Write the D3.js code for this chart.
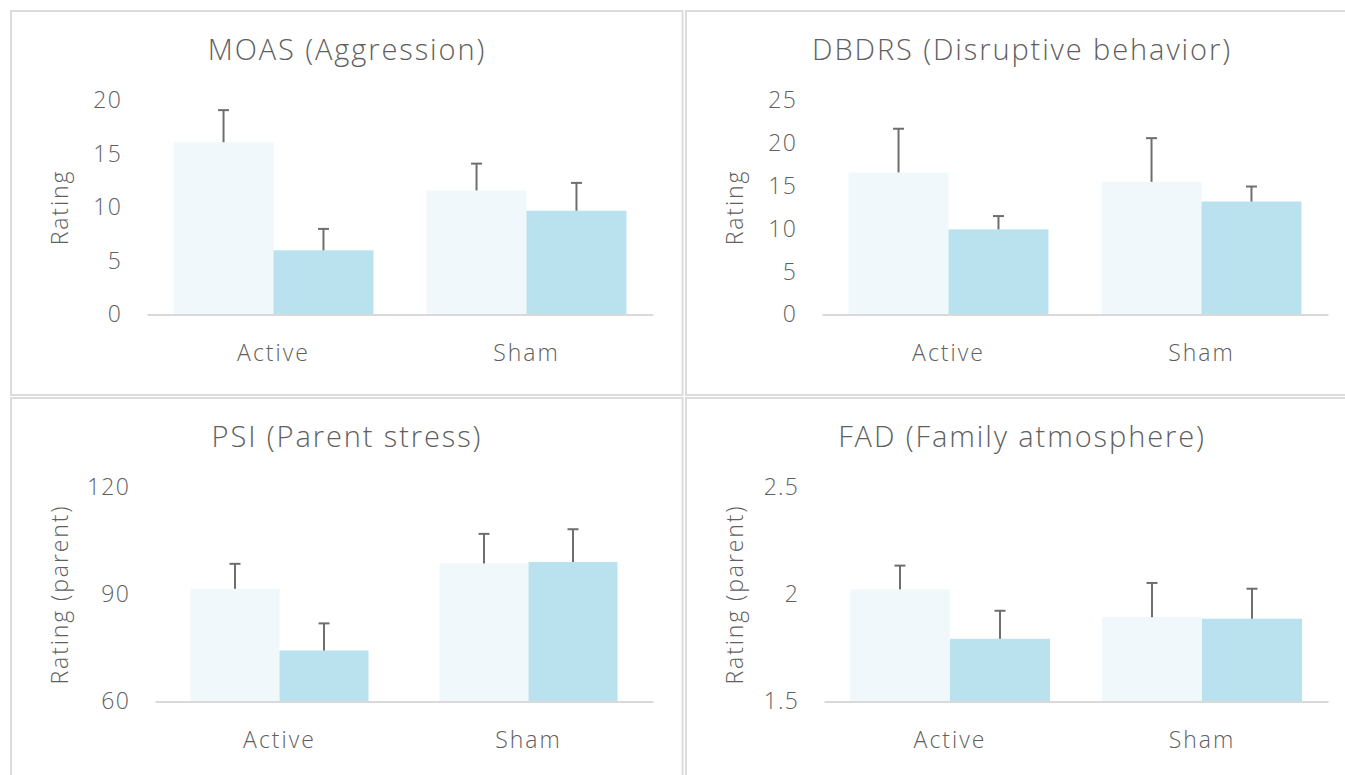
<!DOCTYPE html>
<html>
<head>
<meta charset="utf-8">
<script src="https://cdn.jsdelivr.net/npm/d3@7"></script>
<style>
  body { margin: 0; background: #fff; }
  text { font-family: "Open Sans", sans-serif; font-weight: 300; fill: #5f5f5f; }
</style>
</head>
<body>
<div id="chart"></div>
<script>
var groups = ["Active", "Sham"];
var series = ["baseline", "post"];

// MOAS (Aggression)
var moasBaseline = [16.1, 11.6];
var moasPost = [6.0, 9.7];
var moasBaselineErr = [3.0, 2.5];
var moasPostErr = [2.0, 2.6];
var moasTicks = [0, 5, 10, 15, 20];

// DBDRS (Disruptive behavior)
var dbdrsBaseline = [16.6, 15.5];
var dbdrsPost = [9.95, 13.2];
var dbdrsBaselineErr = [5.1, 5.1];
var dbdrsPostErr = [1.55, 1.75];
var dbdrsTicks = [0, 5, 10, 15, 20, 25];

// PSI (Parent stress)
var psiBaseline = [91.6, 98.7];
var psiPost = [74.3, 99.1];
var psiBaselineErr = [7.0, 8.3];
var psiPostErr = [7.6, 9.2];
var psiTicks = [60, 90, 120];

// FAD (Family atmosphere)
var fadBaseline = [2.024, 1.894];
var fadPost = [1.793, 1.887];
var fadBaselineErr = [0.111, 0.16];
var fadPostErr = [0.131, 0.14];
var fadTicks = [1.5, 2, 2.5];

var panels = [
  {title: "MOAS (Aggression)", yLabel: "Rating", means: [moasBaseline, moasPost],
   errs: [moasBaselineErr, moasPostErr], ticks: moasTicks, col: 0, row: 0, left: 136, pad: 0.21},
  {title: "DBDRS (Disruptive behavior)", yLabel: "Rating", means: [dbdrsBaseline, dbdrsPost],
   errs: [dbdrsBaselineErr, dbdrsPostErr], ticks: dbdrsTicks, col: 1, row: 0, left: 136, pad: 0.21},
  {title: "PSI (Parent stress)", yLabel: "Rating (parent)", means: [psiBaseline, psiPost],
   errs: [psiBaselineErr, psiPostErr], ticks: psiTicks, col: 0, row: 1, left: 144, pad: 0.285},
  {title: "FAD (Family atmosphere)", yLabel: "Rating (parent)", means: [fadBaseline, fadPost],
   errs: [fadBaselineErr, fadPostErr], ticks: fadTicks, col: 1, row: 1, left: 138, pad: 0.206}
];

var colors = {baseline: "#f0f8fb", post: "#b9e2ee"};

var svg = d3.select("#chart")
   .append("svg")
   .attr("width", 1345)
   .attr("height", 775);

panels.forEach(drawPanel);

function drawPanel(p) {
   var g = svg.append("g")
      .attr("transform", "translate(" + (11 + p.col * 675) + "," + (11 + p.row * 387) + ")");

   g.append("rect")
      .attr("width", 671.5)
      .attr("height", 384)
      .attr("fill", "none")
      .attr("stroke", "#dcdcdc")
      .attr("stroke-width", 2);

   var x0 = d3.scaleBand().domain(groups).range([p.left, 642])
      .paddingInner(p.pad).paddingOuter(p.pad / 2);
   var x1 = d3.scaleBand().domain(series).range([0, x0.bandwidth()]);
   var y = d3.scaleLinear()
      .domain([p.ticks[0], p.ticks[p.ticks.length - 1]])
      .range([303.5, 89.5]);

   var rows = [];
   groups.forEach(function(grp, i) {
      series.forEach(function(s, j) {
         rows.push({group: grp, series: s, mean: p.means[j][i], err: p.errs[j][i]});
      });
   });

   g.append("text")
      .attr("x", 336)
      .attr("y", 49)
      .attr("text-anchor", "middle")
      .style("font-size", "29px")
      .style("letter-spacing", "1.9px")
      .text(p.title);

   g.append("text")
      .attr("transform", "translate(49," + ((y.range()[0] + y.range()[1]) / 2) + ") rotate(-90)")
      .attr("text-anchor", "middle")
      .attr("dy", "0.35em")
      .style("font-size", "23px")
      .style("letter-spacing", "1.9px")
      .text(p.yLabel);

   g.selectAll(".bar")
      .data(rows)
      .enter().append("rect")
      .attr("class", "bar")
      .attr("x", function(d) {return x0(d.group) + x1(d.series)})
      .attr("width", x1.bandwidth())
      .attr("y", function(d) {return y(d.mean)})
      .attr("height", function(d) {return y.range()[0] - y(d.mean)})
      .attr("fill", function(d) {return colors[d.series]});

   var err = g.selectAll(".err")
      .data(rows)
      .enter().append("g")
      .attr("class", "err")
      .attr("transform", function(d) {return "translate(" + (x0(d.group) + x1(d.series) + x1.bandwidth() / 2) + ",0)"});

   err.append("line")
      .attr("y1", function(d) {return y(d.mean)})
      .attr("y2", function(d) {return y(d.mean + d.err)})
      .attr("stroke", "#6e6e6e")
      .attr("stroke-width", 2);

   err.append("line")
      .attr("x1", -5.5)
      .attr("x2", 5.5)
      .attr("y1", function(d) {return y(d.mean + d.err)})
      .attr("y2", function(d) {return y(d.mean + d.err)})
      .attr("stroke", "#6e6e6e")
      .attr("stroke-width", 2);

   var yAxis = g.append("g")
      .attr("transform", "translate(" + p.left + ",0)")
      .call(d3.axisLeft(y).tickValues(p.ticks).tickSize(0).tickPadding(25).tickFormat(function(d) {return String(d)}));
   yAxis.select(".domain").remove();
   yAxis.selectAll("text")
      .style("font-size", "23px")
      .style("letter-spacing", "1.2px")
      .attr("fill", null);

   var xAxis = g.append("g")
      .attr("transform", "translate(0," + y.range()[0] + ")")
      .call(d3.axisBottom(x0).tickSize(0).tickPadding(30));
   xAxis.select(".domain")
      .attr("stroke", "#d9d9d9")
      .attr("stroke-width", 2);
   xAxis.selectAll("text")
      .style("font-size", "23px")
      .style("letter-spacing", "2px")
      .attr("fill", null);
   g.selectAll(".tick text").attr("font-family", null).attr("font-size", null);
}
</script>
</body>
</html>
